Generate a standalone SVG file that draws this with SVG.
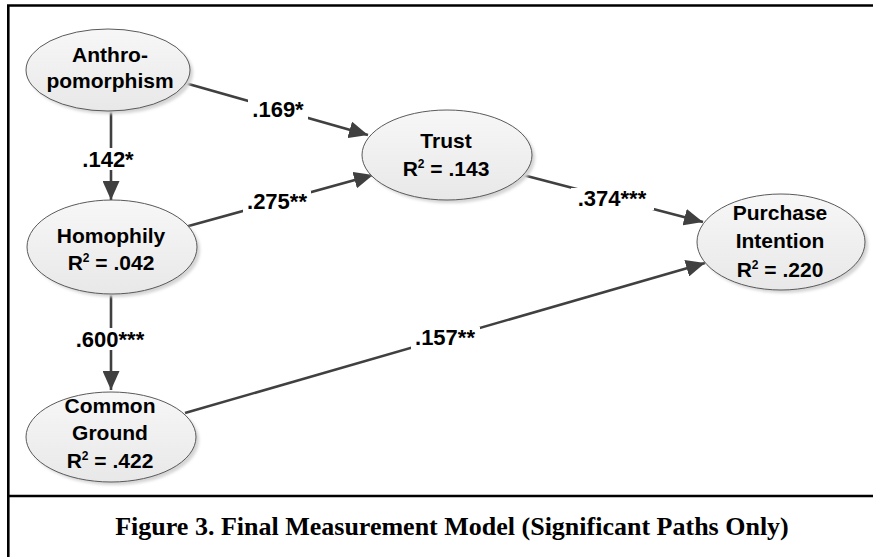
<svg xmlns="http://www.w3.org/2000/svg" width="873" height="557" viewBox="0 0 873 557">
<style>
.node ellipse.body{fill:url(#g);stroke:#5a5a5a;stroke-width:1}
.node ellipse.sh{fill:#d4d4d4}
.nt{font-family:"Liberation Sans",Arial,sans-serif;font-weight:bold;font-size:21px;fill:#000;text-anchor:middle}
.lbl{font-family:"Liberation Sans",Arial,sans-serif;font-weight:bold;font-size:22px;fill:#000;text-anchor:middle}
.conn line{stroke:#404040;stroke-width:2.6;marker-end:url(#ah)}
.bg{fill:#fff}
.sup{font-size:12px}
.frame{stroke:#000;stroke-width:2.6;fill:none}
.cap{font-family:"Liberation Serif","Times New Roman",serif;font-weight:bold;font-size:26px;text-anchor:middle}
</style>
<defs>
<linearGradient id="g" x1="0" y1="0" x2="0" y2="1">
<stop offset="0" stop-color="#f7f7f7"/>
<stop offset="1" stop-color="#e8e8e8"/>
</linearGradient>
<filter id="bl" x="-20%" y="-20%" width="140%" height="140%"><feGaussianBlur stdDeviation="1.5"/></filter>
<marker id="ah" markerUnits="userSpaceOnUse" viewBox="0 0 19 17" markerWidth="19" markerHeight="17" refX="19" refY="8.5" orient="auto">
<path d="M0,0 L19,8.5 L0,17 z" fill="#404040"/>
</marker>
</defs>
<rect width="873" height="557" fill="#fff"/>
<path class="frame" d="M873,5.5 H8.3 V557 M8.3,496 H873"/>

<g id="connectors" class="conn">
<line x1="185" y1="83" x2="368" y2="135"/>
<line x1="185" y1="227" x2="373" y2="175"/>
<line x1="523" y1="175" x2="703" y2="222"/>
<line x1="185" y1="413" x2="705" y2="263"/>
<line x1="111" y1="110" x2="111" y2="200"/>
<line x1="111" y1="295" x2="111" y2="390"/>
</g>

<g id="labels">
<rect class="bg" x="248" y="99" width="60" height="22"/>
<text class="lbl" x="278" y="117">.169*</text>
<rect class="bg" x="243" y="191" width="68" height="22"/>
<text class="lbl" x="277" y="209">.275**</text>
<rect class="bg" x="571" y="188" width="83" height="22"/>
<text class="lbl" x="612" y="206">.374***</text>
<rect class="bg" x="411" y="327" width="69" height="22"/>
<text class="lbl" x="445" y="345">.157**</text>
<rect class="bg" x="80" y="148" width="56" height="22"/>
<text class="lbl" x="108" y="167">.142*</text>
<rect class="bg" x="70" y="328" width="80" height="22"/>
<text class="lbl" x="110" y="347">.600***</text>
</g>

<g id="anthropomorphism" class="node">
<ellipse class="sh" cx="111" cy="73" rx="82" ry="41" filter="url(#bl)"/>
<ellipse class="body" cx="108" cy="70" rx="82" ry="41"/>
<text class="nt" x="110" y="62">Anthro-</text>
<text class="nt" x="110" y="88">pomorphism</text>
</g>

<g id="homophily" class="node">
<ellipse class="sh" cx="115" cy="250" rx="85" ry="47" filter="url(#bl)"/>
<ellipse class="body" cx="112" cy="247" rx="85" ry="47"/>
<text class="nt" x="111" y="243">Homophily</text>
<text class="nt" x="111" y="270">R<tspan class="sup" dy="-8">2</tspan><tspan dy="8"> = .042</tspan></text>
</g>

<g id="commonground" class="node">
<ellipse class="sh" cx="114" cy="440" rx="85" ry="45" filter="url(#bl)"/>
<ellipse class="body" cx="111" cy="437" rx="85" ry="45"/>
<text class="nt" x="110" y="413">Common</text>
<text class="nt" x="110" y="440">Ground</text>
<text class="nt" x="110" y="468">R<tspan class="sup" dy="-8">2</tspan><tspan dy="8"> = .422</tspan></text>
</g>

<g id="trust" class="node">
<ellipse class="sh" cx="450" cy="158" rx="85" ry="45" filter="url(#bl)"/>
<ellipse class="body" cx="447" cy="155" rx="85" ry="45"/>
<text class="nt" x="446" y="148">Trust</text>
<text class="nt" x="446" y="176">R<tspan class="sup" dy="-8">2</tspan><tspan dy="8"> = .143</tspan></text>
</g>

<g id="purchaseintention" class="node">
<ellipse class="sh" cx="784" cy="245" rx="84" ry="48" filter="url(#bl)"/>
<ellipse class="body" cx="781" cy="242" rx="84" ry="48"/>
<text class="nt" x="780" y="220">Purchase</text>
<text class="nt" x="780" y="248">Intention</text>
<text class="nt" x="780" y="277">R<tspan class="sup" dy="-8">2</tspan><tspan dy="8"> = .220</tspan></text>
</g>

<text class="cap" x="452" y="535">Figure 3. Final Measurement Model (Significant Paths Only)</text>
</svg>
